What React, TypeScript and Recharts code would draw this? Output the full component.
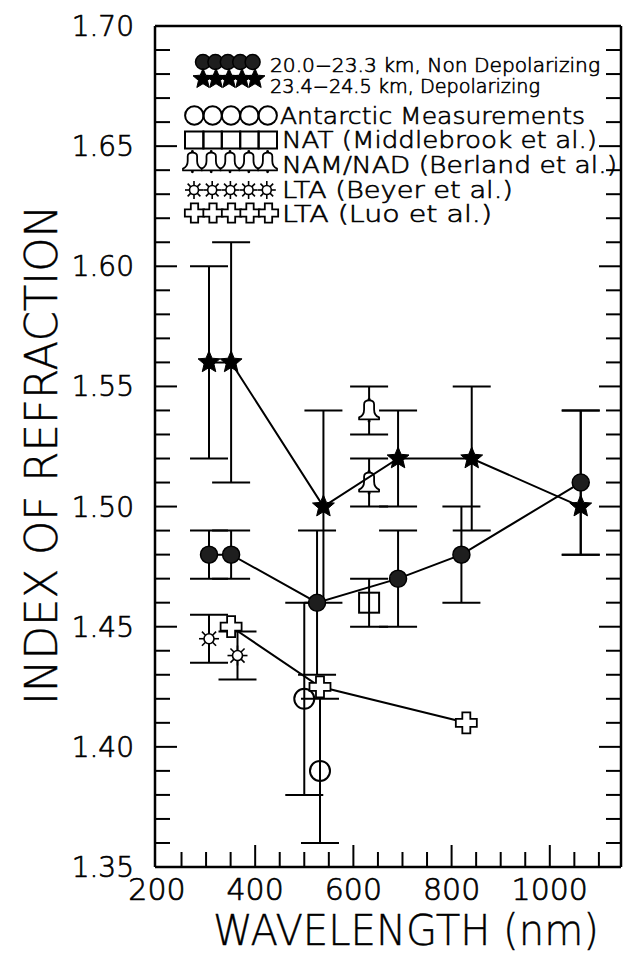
import React from 'react'
import { ComposedChart, Scatter, XAxis, YAxis, ErrorBar, Legend } from 'recharts'

const ink = '#000'
const font = "'DejaVu Sans', 'Liberation Sans', sans-serif"
// thin glyphs, thickened a little with a stroke to look like the plotter font
const txt = { fontFamily: font, fontWeight: 200, fill: ink, stroke: ink, strokeWidth: 0.7 }

// 20.0-23.3 km, non depolarizing
const nonDepolWl = [306, 351, 526, 691, 820, 1063]
const nonDepolIdx = [1.48, 1.48, 1.46, 1.47, 1.48, 1.51]
const nonDepolErr = [0.01, 0.01, 0.03, 0.02, 0.02, 0.03]

// 23.4-24.5 km, depolarizing
const depolWl = [306, 351, 539, 691, 841, 1063]
const depolIdx = [1.56, 1.56, 1.5, 1.52, 1.52, 1.5]
const depolErrLow = [0.04, 0.05, 0.04, 0.02, 0.03, 0.02]
const depolErrHigh = [0.04, 0.05, 0.04, 0.02, 0.03, 0.04]

const antarcticWl = [500, 532]
const antarcticIdx = [1.42, 1.39]
const antarcticErr = [0.04, 0.03]

const natWl = [632]
const natIdx = [1.46]
const natErr = [0.01]

const berlandWl = [632, 632]
const berlandIdx = [1.54, 1.51]
const berlandErr = [0.01, 0.01]

const beyerWl = [306, 364]
const beyerIdx = [1.445, 1.438]
const beyerErr = [0.01, 0.01]

const luoWl = [351, 532, 830]
const luoIdx = [1.45, 1.425, 1.41]

const xLabels = [200, 400, 600, 800, 1000]
const yLabels = [1.35, 1.4, 1.45, 1.5, 1.55, 1.6, 1.65, 1.7]
const xTicks = Array.from({ length: 19 }, (_, i) => 200 + i * 50)
const yTicks = Array.from({ length: 36 }, (_, i) => Math.round(135 + i) / 100)

const legendLabels = [
  '20.0\u221223.3 km, Non Depolarizing',
  '23.4\u221224.5 km, Depolarizing',
  'Antarctic Measurements',
  'NAT (Middlebrook et al.)',
  'NAM/NAD (Berland et al.)',
  'LTA (Beyer et al.)',
  'LTA (Luo et al.)',
]

const pts = (wl: number[], idx: number[], err?: (number | number[])[]) =>
  wl.map((x, i) => ({ x, y: idx[i], err: err ? err[i] : 0 }))

const nonDepol = pts(nonDepolWl, nonDepolIdx, nonDepolErr)
const depol = pts(depolWl, depolIdx, depolErrLow.map((lo, i) => [lo, depolErrHigh[i]]))
const antarctic = pts(antarcticWl, antarcticIdx, antarcticErr)
const nat = pts(natWl, natIdx, natErr)
const berland = pts(berlandWl, berlandIdx, berlandErr)
const beyer = pts(beyerWl, beyerIdx, beyerErr)
const luo = pts(luoWl, luoIdx)

// ---- symbols ----
function Dot({ cx, cy, r = 8.5 }: any) {
  return <circle cx={cx} cy={cy} r={r} fill="#1e1e1e" stroke={ink} strokeWidth={1.5} />
}

function Star({ cx, cy, r = 11.5 }: any) {
  const p: string[] = []
  for (let i = 0; i < 10; i++) {
    const a = -Math.PI / 2 + (i * Math.PI) / 5
    const rr = i % 2 ? r * 0.45 : r
    p.push(`${cx + rr * Math.cos(a)},${cy + rr * Math.sin(a)}`)
  }
  return <polygon points={p.join(' ')} fill={ink} stroke={ink} strokeWidth={1} strokeLinejoin="round" />
}

function Ring({ cx, cy, r = 10 }: any) {
  return <circle cx={cx} cy={cy} r={r} fill="none" stroke={ink} strokeWidth={2} />
}

function Box({ cx, cy, w = 20, h = 20 }: any) {
  return <rect x={cx - w / 2} y={cy - h / 2} width={w} height={h} fill="none" stroke={ink} strokeWidth={2} />
}

function Bell({ cx, cy, s = 1 }: any) {
  const p = (dx: number, dy: number) => `${cx + dx * s},${cy + dy * s}`
  const d = `M${p(-5, -1)} L${p(-5, -6)} Q${p(-5, -10)} ${p(0, -10)} Q${p(5, -10)} ${p(5, -6)} L${p(5, -1)} Q${p(5, 5)} ${p(10, 7)} L${p(10, 9)} L${p(-10, 9)} L${p(-10, 7)} Q${p(-5, 5)} ${p(-5, -1)} Z`
  return (
    <g>
      <path d={d} fill="#fff" stroke={ink} strokeWidth={1.8} strokeLinejoin="round" />
      <circle cx={cx} cy={cy - 11.3 * s} r={1.5 * s} fill={ink} />
      <circle cx={cx} cy={cy + 10.5 * s} r={1.5 * s} fill={ink} />
    </g>
  )
}

function Sun({ cx, cy, s = 1 }: any) {
  const rays = []
  for (let i = 0; i < 8; i++) {
    const a = (i * Math.PI) / 4
    rays.push(
      <line key={i} x1={cx + 5 * s * Math.cos(a)} y1={cy + 5 * s * Math.sin(a)} x2={cx + 10 * s * Math.cos(a)} y2={cy + 10 * s * Math.sin(a)} stroke={ink} strokeWidth={1.6} />
    )
  }
  return (
    <g>
      {rays}
      <circle cx={cx} cy={cy} r={5 * s} fill="#fff" stroke={ink} strokeWidth={1.6} />
    </g>
  )
}

function Cross({ cx, cy, s = 1 }: any) {
  const a = 4 * s
  const L = 10.5 * s
  const c = [[-a, -L], [a, -L], [a, -a], [L, -a], [L, a], [a, a], [a, L], [-a, L], [-a, a], [-L, a], [-L, -a], [-a, -a]]
  return <polygon points={c.map(([dx, dy]) => `${cx + dx},${cy + dy}`).join(' ')} fill="#fff" stroke={ink} strokeWidth={1.8} />
}

// ---- ticks ----
const isMajorX = (v: number) => v % 200 === 0
const isMajorY = (v: number) => Math.round(v * 100) % 5 === 0
const hasYLabel = (v: number) => yLabels.some((l) => Math.abs(l - v) < 1e-6)

function BottomTick({ x, y, payload }: any) {
  const v = payload.value
  return (
    <g>
      {v > 200 && <line x1={x} y1={y} x2={x} y2={y - (isMajorX(v) ? 22 : 15)} stroke={ink} strokeWidth={2} />}
      {xLabels.includes(v) && (
        <text x={x} y={y + 33} textAnchor="middle" fontSize={30} {...txt}>{v}</text>
      )}
    </g>
  )
}

function TopTick({ x, y, payload }: any) {
  const v = payload.value
  if (v <= 200) return <g />
  return <line x1={x} y1={y} x2={x} y2={y + (isMajorX(v) ? 22 : 14)} stroke={ink} strokeWidth={2} />
}

function LeftTick({ x, y, payload }: any) {
  const v = payload.value
  return (
    <g>
      <line x1={x} y1={y} x2={x + (isMajorY(v) ? 22 : 15)} y2={y} stroke={ink} strokeWidth={2} />
      {hasYLabel(v) && (
        <text x={x - 21} y={y + 10} textAnchor="end" fontSize={28} {...txt}>{v.toFixed(2)}</text>
      )}
    </g>
  )
}

function RightTick({ x, y, payload }: any) {
  const v = payload.value
  return <line x1={x} y1={y} x2={x - (isMajorY(v) ? 22 : 15)} y2={y} stroke={ink} strokeWidth={2} />
}

// ---- legend ----
const repeat = (n: number, x0: number, step: number, draw: (cx: number) => React.ReactNode) =>
  Array.from({ length: n }, (_, i) => <g key={i}>{draw(x0 + i * step)}</g>)

function LegendBox() {
  const rows = [
    { sym: repeat(5, 203, 12.4, (cx) => <Dot cx={cx} cy={62} r={7.5} />), x: 270, base: 72, len: 330, size: 19 },
    { sym: repeat(5, 203, 13, (cx) => <Star cx={cx} cy={79} r={10.5} />), x: 270, base: 93, len: 270, size: 19 },
    { sym: repeat(5, 194.3, 18.35, (cx) => <Ring cx={cx} cy={115.5} r={9.2} />), x: 280, base: 124, len: 305, size: 23 },
    { sym: repeat(5, 194.2, 18.4, (cx) => <Box cx={cx} cy={140} w={18.4} h={17} />), x: 282, base: 148, len: 315, size: 23 },
    { sym: repeat(5, 192.4, 18.8, (cx) => <Bell cx={cx} cy={162} s={0.94} />), x: 282, base: 173, len: 335, size: 23 },
    { sym: repeat(5, 194, 18.2, (cx) => <Sun cx={cx} cy={190} s={0.9} />), x: 282, base: 198, len: 231, size: 23 },
    { sym: repeat(5, 194.5, 18.5, (cx) => <Cross cx={cx} cy={213} s={0.92} />), x: 282, base: 222, len: 210, size: 23 },
  ]
  return (
    <svg width={624} height={240} style={{ display: 'block' }}>
      {rows.map((r, i) => (
        <g key={i}>
          {r.sym}
          <text x={r.x} y={r.base} fontSize={r.size} {...txt} strokeWidth={0.6} textLength={r.len} lengthAdjust="spacingAndGlyphs">
            {legendLabels[i]}
          </text>
        </g>
      ))}
    </svg>
  )
}

const errBar = (key = 'err') => (
  <ErrorBar dataKey={key} direction="y" width={19} stroke={ink} strokeWidth={2} isAnimationActive={false} />
)

const lineStyle = { stroke: ink, strokeWidth: 2 }

export default function App() {
  return (
    <div style={{ position: 'absolute', left: 0, top: 0, width: 624, height: 954, background: '#fff' }}>
      <ComposedChart width={624} height={954} margin={{ top: 0, right: 0, bottom: 0, left: 0 }}>
        <XAxis
          xAxisId="x" type="number" dataKey="x" domain={[196, 1145]} ticks={xTicks} interval={0}
          height={87} tickLine={false} tickSize={0} tickMargin={0} allowDataOverflow
          axisLine={{ stroke: ink, strokeWidth: 2.5 }} tick={<BottomTick />}
          label={{
            content: () => (
              <text x={213} y={945} fontSize={42} {...txt} strokeWidth={0.4} textLength={386} lengthAdjust="spacingAndGlyphs">
                WAVELENGTH (nm)
              </text>
            ),
          }}
        />
        <XAxis
          xAxisId="xt" orientation="top" type="number" domain={[196, 1145]} ticks={xTicks} interval={0}
          height={26} tickLine={false} tickSize={0} tickMargin={0} allowDataOverflow
          axisLine={{ stroke: ink, strokeWidth: 2.5 }} tick={<TopTick />}
        />
        <YAxis
          yAxisId="y" type="number" dataKey="y" domain={[1.35, 1.7]} ticks={yTicks} interval={0}
          width={155} tickLine={false} tickSize={0} tickMargin={0} allowDataOverflow
          axisLine={{ stroke: ink, strokeWidth: 2.5 }} tick={<LeftTick />}
          label={{
            content: () => (
              <text transform="translate(57 455) rotate(-90)" textAnchor="middle" fontSize={44} {...txt} strokeWidth={0.4} textLength={500} lengthAdjust="spacingAndGlyphs">
                INDEX OF REFRACTION
              </text>
            ),
          }}
        />
        <YAxis
          yAxisId="yr" orientation="right" type="number" domain={[1.35, 1.7]} ticks={yTicks} interval={0}
          width={3} tickLine={false} tickSize={0} tickMargin={0} allowDataOverflow
          axisLine={{ stroke: ink, strokeWidth: 2.5 }} tick={<RightTick />}
        />
        <Legend
          layout="horizontal" verticalAlign="middle" align="center"
          wrapperStyle={{ position: 'absolute', left: 0, top: 0, width: 624, height: 240 }}
          content={() => <LegendBox />}
        />
        <Scatter xAxisId="x" yAxisId="y" data={antarctic} isAnimationActive={false} shape={(p: any) => <Ring cx={p.cx} cy={p.cy} />}>
          {errBar()}
        </Scatter>
        <Scatter xAxisId="x" yAxisId="y" data={nat} isAnimationActive={false} shape={(p: any) => <Box cx={p.cx} cy={p.cy} />}>
          {errBar()}
        </Scatter>
        <Scatter xAxisId="x" yAxisId="y" data={berland} isAnimationActive={false} shape={(p: any) => <Bell cx={p.cx} cy={p.cy} />}>
          {errBar()}
        </Scatter>
        <Scatter xAxisId="x" yAxisId="y" data={beyer} isAnimationActive={false} shape={(p: any) => <Sun cx={p.cx} cy={p.cy} />}>
          {errBar()}
        </Scatter>
        <Scatter xAxisId="x" yAxisId="y" data={luo} isAnimationActive={false} line={lineStyle} lineType="joint" shape={(p: any) => <Cross cx={p.cx} cy={p.cy} />} />
        <Scatter xAxisId="x" yAxisId="y" data={nonDepol} isAnimationActive={false} line={lineStyle} lineType="joint" shape={(p: any) => <Dot cx={p.cx} cy={p.cy} />}>
          {errBar()}
        </Scatter>
        <Scatter xAxisId="x" yAxisId="y" data={depol} isAnimationActive={false} line={lineStyle} lineType="joint" shape={(p: any) => <Star cx={p.cx} cy={p.cy} />}>
          {errBar()}
        </Scatter>
      </ComposedChart>
    </div>
  )
}
